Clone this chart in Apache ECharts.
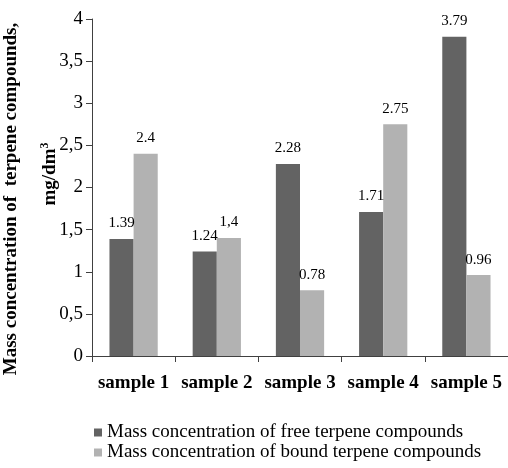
<!DOCTYPE html>
<html>
<head>
<meta charset="utf-8">
<script src="https://cdn.jsdelivr.net/npm/echarts@6/dist/echarts.min.js"></script>
<style>
html,body{margin:0;padding:0;background:#fff;}
#chart{width:508px;height:468px;}
</style>
</head>
<body>
<div id="chart"></div>
<script>
var categories = ['sample 1', 'sample 2', 'sample 3', 'sample 4', 'sample 5'];
var freeValues = [1.39, 1.24, 2.28, 1.71, 3.79];
var boundValues = [2.4, 1.4, 0.78, 2.75, 0.96];
var freeLabels = ['1.39', '1.24', '2.28', '1.71', '3.79'];
var boundLabels = ['2.4', '1,4', '0.78', '2.75', '0.96'];
var seriesNames = ['Mass concentration of free terpene compounds', 'Mass concentration of bound terpene compounds'];
var yAxisTitle = 'Mass concentration of  terpene compounds,';
var yAxisUnit = 'mg/dm';

var FONT = '"Liberation Serif", "Times New Roman", serif';
var chart = echarts.init(document.getElementById('chart'), null, {renderer: 'canvas'});

function legendFor(name, top) {
  return {
    orient: 'horizontal',
    left: 94,
    top: top,
    itemWidth: 8,
    itemHeight: 8,
    icon: 'rect',
    padding: 0,
    textStyle: {fontFamily: FONT, fontSize: 19, color: '#000'},
    data: [name]
  };
}

chart.setOption({
  animation: false,
  backgroundColor: '#ffffff',
  textStyle: {fontFamily: FONT, color: '#000'},
  grid: {left: 92, top: 19, width: 423, height: 337, containLabel: false},
  legend: [legendFor(seriesNames[0], 423), legendFor(seriesNames[1], 443)],
  xAxis: {
    type: 'category',
    data: categories,
    axisLine: {lineStyle: {color: '#404040', width: 1}},
    axisTick: {show: true, length: 6, alignWithLabel: false, lineStyle: {color: '#404040'}},
    axisLabel: {fontFamily: FONT, fontSize: 19, fontWeight: 'bold', color: '#000', margin: 18, interval: 0, hideOverlap: false}
  },
  yAxis: {
    type: 'value',
    min: 0,
    max: 4,
    interval: 0.5,
    splitLine: {show: false},
    axisLine: {show: true, lineStyle: {color: '#404040', width: 1}},
    axisTick: {show: true, length: 6, lineStyle: {color: '#404040'}},
    axisLabel: {
      fontFamily: FONT, fontSize: 19, color: '#000', margin: 9,
      formatter: function (v) { return String(v).replace('.', ','); }
    }
  },
  graphic: [
    {
      type: 'text',
      x: 11, y: 199,
      rotation: Math.PI / 2,
      style: {
        text: yAxisTitle,
        fontFamily: FONT, fontSize: 19, fontWeight: 'bold', fill: '#000',
        textAlign: 'center', textVerticalAlign: 'middle'
      }
    },
    {
      type: 'text',
      x: 50, y: 174,
      rotation: Math.PI / 2,
      style: {
        text: '{a|' + yAxisUnit + '}{s|3}',
        rich: {
          a: {fontFamily: FONT, fontSize: 19, fontWeight: 'bold', fill: '#000', color: '#000'},
          s: {fontFamily: FONT, fontSize: 12, fontWeight: 'bold', fill: '#000', color: '#000', verticalAlign: 'top', padding: [0, 0, 10, 0]}
        },
        textAlign: 'center', textVerticalAlign: 'middle'
      }
    }
  ],
  series: [
    {
      name: seriesNames[0],
      type: 'bar',
      data: freeValues,
      barGap: '0%',
      barCategoryGap: '42%',
      itemStyle: {color: '#636363'},
      label: {
        show: true, position: 'top', distance: 8,
        fontFamily: FONT, fontSize: 15, color: '#000',
        formatter: function (p) { return freeLabels[p.dataIndex]; }
      }
    },
    {
      name: seriesNames[1],
      type: 'bar',
      data: boundValues,
      barGap: '0%',
      barCategoryGap: '42%',
      itemStyle: {color: '#b2b2b2'},
      label: {
        show: true, position: 'top', distance: 8,
        fontFamily: FONT, fontSize: 15, color: '#000',
        formatter: function (p) { return boundLabels[p.dataIndex]; }
      }
    }
  ]
});
</script>
</body>
</html>
